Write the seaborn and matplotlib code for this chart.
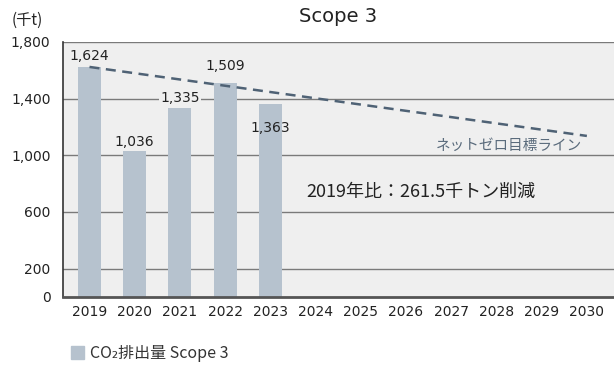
import matplotlib
matplotlib.use("Agg")
import matplotlib.pyplot as plt
import seaborn as sns
import pandas as pd

# Data
years = ["2019", "2020", "2021", "2022", "2023", "2024", "2025",
         "2026", "2027", "2028", "2029", "2030"]
actual_years = ["2019", "2020", "2021", "2022", "2023"]
emissions = [1624, 1036, 1335, 1509, 1363]
target_years = ["2019", "2030"]
target_values = [1624, 1137]
yticks = [0, 200, 600, 1000, 1400, 1800]
ytick_labels = ["0", "200", "600", "1,000", "1,400", "1,800"]

sns.set_theme(style="white")
plt.rcParams["font.family"] = ["DejaVu Sans", "Noto Sans CJK JP"]

BAR = "#b6c2ce"
BG = "#efefef"
GRID = "#7a7a7a"
TEXT = "#222222"
LINE = "#4f6275"

fig = plt.figure(figsize=(6.14, 3.67), dpi=100)
ax = fig.add_axes([63 / 614, 1 - 297 / 367, 1 - 63 / 614, (297 - 42) / 367])
ax.set_facecolor(BG)

df = pd.DataFrame({"year": actual_years, "value": emissions})
sns.barplot(data=df, x="year", y="value", order=years, color=BAR,
            width=0.51, saturation=1, linewidth=0, ax=ax, zorder=3)

# gridlines
for v in yticks[1:]:
    ax.axhline(v, color=GRID, lw=1.0, zorder=1)

# net-zero target line
pos = {y: i for i, y in enumerate(years)}
ax.plot([pos[y] for y in target_years], target_values, ls=(0, (4, 2.6)),
        color=LINE, lw=1.8, zorder=4)

# value labels (pixel offsets of label centre from bar top)
label_offsets = [11, 8, 10, 17, -24]
for y, v, off in zip(actual_years, emissions, label_offsets):
    ax.annotate(f"{v:,}", (pos[y], v), xytext=(0, off * 0.72),
                textcoords="offset points", ha="center", va="center",
                fontsize=10, color=TEXT, zorder=5,
                bbox=dict(boxstyle="square,pad=0.1", fc=BG, ec="none")
                if off > 0 else None)

ax.text(pos["2030"] - 0.11, 1068, "ネットゼロ目標ライン", ha="right", va="center",
        fontsize=10.5, color="#5a6b7c", family=["Noto Sans CJK JP"], zorder=5)
ax.text(4.8, 740, "2019年比：261.5千トン削減", ha="left", va="center",
        fontsize=13, color=TEXT, family=["Noto Sans CJK JP"], zorder=5)

ax.set_xlim(-0.586, 11.6)
ax.set_ylim(0, 1800)
ax.set_yticks(yticks)
ax.set_yticklabels(ytick_labels)
ax.set_xlabel("")
ax.set_ylabel("")
ax.tick_params(axis="both", length=0, labelsize=10, colors=TEXT)
ax.tick_params(axis="x", pad=6)
ax.tick_params(axis="y", pad=9)

for s in ["top", "right"]:
    ax.spines[s].set_visible(False)
ax.spines["left"].set_color("#333333")
ax.spines["left"].set_linewidth(1.2)
ax.spines["bottom"].set_color("#555555")
ax.spines["bottom"].set_linewidth(2)
ax.spines["left"].set_zorder(6)
ax.spines["bottom"].set_zorder(6)

fig.text(338 / 614, 1 - 17 / 367, "Scope 3", ha="center", va="center",
         fontsize=14, color=TEXT)
fig.text(12 / 614, 1 - 20 / 367, "(千t)", ha="left", va="center",
         fontsize=11, color=TEXT, family=["Noto Sans CJK JP"])

# legend
fig.patches.append(plt.Rectangle((71 / 614, 1 - 359 / 367), 13 / 614, 13 / 367,
                                 transform=fig.transFigure, color=BAR))
fig.text(90 / 614, 1 - 353 / 367, "CO₂排出量 Scope 3", ha="left", va="center",
         fontsize=11.5, color="#333333", family=["Noto Sans CJK JP", "DejaVu Sans"])

fig.savefig("out.png", dpi=100, facecolor="white")
